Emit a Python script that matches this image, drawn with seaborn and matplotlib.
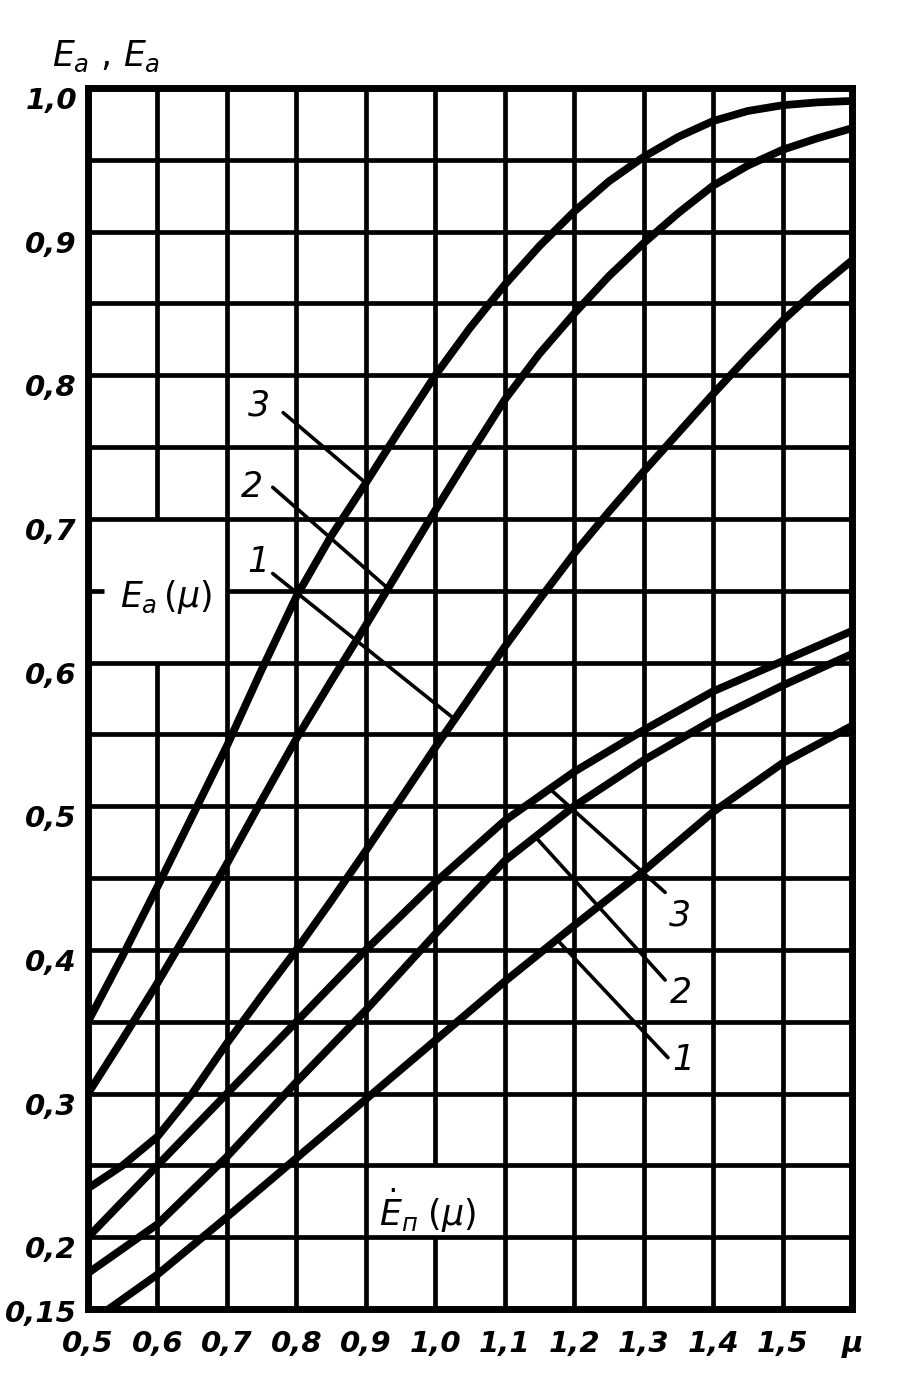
import numpy as np
import seaborn as sns
import matplotlib.pyplot as plt
from matplotlib.transforms import ScaledTranslation

# curves
mu = [0.50, 0.55, 0.60, 0.65, 0.70, 0.75, 0.80, 0.85, 0.90, 0.95, 1.00, 1.05,
      1.10, 1.15, 1.20, 1.25, 1.30, 1.35, 1.40, 1.45, 1.50, 1.55, 1.60]
ea3 = [0.350, 0.396, 0.444, 0.493, 0.542, 0.595, 0.646, 0.688, 0.725, 0.763, 0.800, 0.833,
       0.863, 0.890, 0.914, 0.935, 0.952, 0.966, 0.977, 0.984, 0.988, 0.990, 0.991]
ea2 = [0.300, 0.338, 0.377, 0.418, 0.460, 0.504, 0.547, 0.587, 0.626, 0.666, 0.706, 0.745,
       0.783, 0.815, 0.843, 0.869, 0.892, 0.913, 0.932, 0.946, 0.957, 0.965, 0.972]
ea1 = [0.234, 0.250, 0.270, 0.300, 0.335, 0.368, 0.400, 0.434, 0.469, 0.505, 0.541, 0.576,
       0.611, 0.644, 0.676, 0.705, 0.733, 0.760, 0.787, 0.813, 0.838, 0.860, 0.880]

mu_n = [0.5, 0.6, 0.7, 0.8, 0.9, 1.0, 1.1, 1.2, 1.3, 1.4, 1.5, 1.6]
en3 = [0.200, 0.250, 0.300, 0.350, 0.400, 0.447, 0.490, 0.524, 0.553, 0.580, 0.601, 0.622]
en2 = [0.175, 0.209, 0.256, 0.308, 0.358, 0.411, 0.462, 0.500, 0.532, 0.560, 0.584, 0.606]
mu_n1 = [0.53, 0.6, 0.7, 0.8, 0.9, 1.0, 1.1, 1.2, 1.3, 1.4, 1.5, 1.6]
en1 = [0.150, 0.174, 0.214, 0.255, 0.296, 0.337, 0.378, 0.417, 0.455, 0.496, 0.530, 0.556]

x_ticks = [0.5, 0.6, 0.7, 0.8, 0.9, 1.0, 1.1, 1.2, 1.3, 1.4, 1.5, 1.6]
x_labels = ['0,5', '0,6', '0,7', '0,8', '0,9', '1,0', '1,1', '1,2', '1,3', '1,4', '1,5', 'μ']
y_ticks = [0.15, 0.2, 0.3, 0.4, 0.5, 0.6, 0.7, 0.8, 0.9, 1.0]
y_labels = ['0,15', '0,2', '0,3', '0,4', '0,5', '0,6', '0,7', '0,8', '0,9', '1,0']

sns.set_style("white")
plt.rcParams['font.family'] = ['DejaVu Sans']
plt.rcParams['mathtext.fontset'] = 'dejavusans'
plt.rcParams['text.color'] = 'black'
plt.rcParams['xtick.color'] = 'black'
plt.rcParams['ytick.color'] = 'black'

fig = plt.figure(figsize=(9.05, 13.97), dpi=100)
ax = fig.add_axes([88 / 905, 1 - 1309 / 1397, 764 / 905, 1221 / 1397])
ax.set_xlim(0.5, 1.6)
ax.set_ylim(0.15, 1.0)

# grid, with the gaps left for the two curve names
g_lw = 3.4
for gx in np.round(np.arange(0.6, 1.55, 0.1), 2):
    if gx == 0.6:
        segs = [(0.15, 0.6), (0.7, 1.0)]
    elif gx == 1.0:
        segs = [(0.15, 0.2), (0.25, 1.0)]
    else:
        segs = [(0.15, 1.0)]
    for a, b in segs:
        ax.vlines(gx, a, b, color='black', lw=g_lw, zorder=1)
for gy in np.round(np.arange(0.2, 0.99, 0.05), 2):
    if gy == 0.65:
        segs = [(0.5, 0.523), (0.7, 1.6)]
    else:
        segs = [(0.5, 1.6)]
    for a, b in segs:
        ax.hlines(gy, a, b, color='black', lw=g_lw, zorder=1)

kw = dict(color='black', linewidth=5.6, ax=ax, legend=False, zorder=3,
          solid_joinstyle='round')
for xs, ys in [(mu, ea3), (mu, ea2), (mu, ea1), (mu_n, en3), (mu_n, en2), (mu_n1, en1)]:
    sns.lineplot(x=xs, y=ys, **kw)

# leader lines from the numbers to the curves
leaders = [
    ('3', (0.746, 0.779), (0.781, 0.774), 0.900, mu, ea3),
    ('2', (0.736, 0.722), (0.766, 0.722), 0.932, mu, ea2),
    ('1', (0.746, 0.670), (0.766, 0.662), 1.028, mu, ea1),
    ('3', (1.352, 0.424), (1.331, 0.440), 1.165, mu_n, en3),
    ('2', (1.353, 0.370), (1.331, 0.379), 1.144, mu_n, en2),
    ('1', (1.357, 0.323), (1.335, 0.325), 1.175, mu_n1, en1),
]
for lab, tpos, start, xe, xs, ys in leaders:
    ye = np.interp(xe, xs, ys)
    ax.plot([start[0], xe], [start[1], ye], color='black', lw=2.6, zorder=2)
    ax.text(tpos[0], tpos[1], lab, fontsize=25, style='italic', ha='center',
            va='center', zorder=4)

ax.text(0.612, 0.646, r'$E_a\,(\mu)$', fontsize=25, ha='center', va='center')
ax.text(0.988, 0.218, r'$\dot{E}_{п}\;(\mu)$', fontsize=25, ha='center', va='center')
fig.text(106 / 905, 1 - 56 / 1397, r'$E_a$ , $E_a$', fontsize=25, ha='center',
         va='center')

for s in ax.spines.values():
    s.set_visible(True)
    s.set_color('black')
    s.set_linewidth(5)
    s.set_zorder(5)

ax.set_xticks(x_ticks)
ax.set_xticklabels(x_labels)
ax.set_yticks(y_ticks)
ax.set_yticklabels(y_labels)
ax.tick_params(length=0, labelsize=21)
ax.tick_params(axis='x', pad=15)
ax.tick_params(axis='y', pad=8)
for t in ax.get_xticklabels() + ax.get_yticklabels():
    t.set_fontweight('bold')
    t.set_fontstyle('italic')
for t in ax.get_yticklabels():
    dy = -2 if t.get_text() == '0,15' else -10
    t.set_transform(t.get_transform() + ScaledTranslation(0, dy / 100, fig.dpi_scale_trans))
ax.set_xlabel('')
ax.set_ylabel('')

fig.savefig('out.png', dpi=100, facecolor='white')
